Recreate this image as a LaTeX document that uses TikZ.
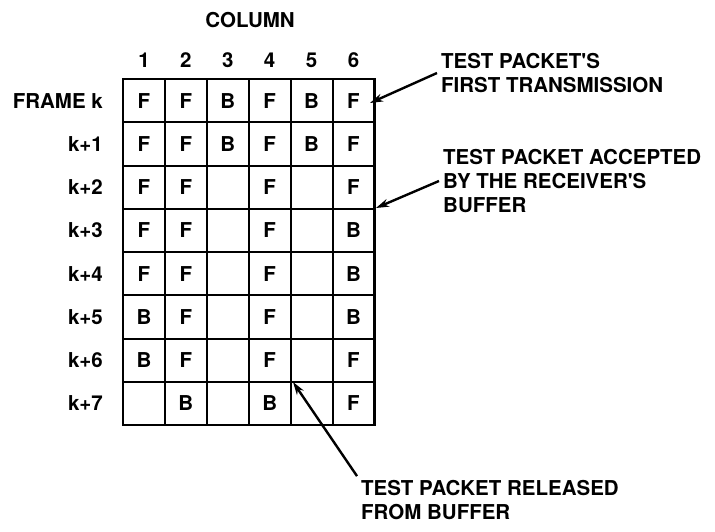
\documentclass[tikz,border=0pt]{standalone}
\usepackage{fontspec}
\setmainfont{TeX Gyre Heros}
\usetikzlibrary{arrows.meta}

\tikzset{
  lbl/.style={font=\bfseries\fontsize{20.5}{24}\selectfont, inner sep=4pt},
  note/.style={lbl, align=left, anchor=west},
  pointer/.style={line width=2.4pt, -{Stealth[length=13pt,width=8pt]}}
}

\begin{document}
\begin{tikzpicture}[x=1pt, y=-1pt]
\useasboundingbox (0,0) rectangle (715,531);
\def\cw{41.9}
\def\rh{43.25}

% grid lines
\foreach \i in {1,...,5}
  \draw[line width=2pt] (123+\i*\cw,79) -- (123+\i*\cw,79+8*\rh);
\foreach \j in {1,...,7}
  \draw[line width=2pt] (123,79+\j*\rh) -- (123+6*\cw,79+\j*\rh);
\draw[line width=2.6pt] (123,79) rectangle (123+6*\cw,79+8*\rh);

% headings
\node[lbl] (column) at (250,20) {COLUMN};
\foreach \i in {1,...,6}
  \node[lbl] (col\i) at (123+\i*\cw-0.5*\cw,60) {\i};
\foreach \t [count=\j from 0] in {FRAME k,k+1,k+2,k+3,k+4,k+5,k+6,k+7}
  \node[lbl, anchor=east] (row\j) at (107,79+\j*\rh+0.5*\rh) {\t};

% cells
\foreach \r [count=\j from 0] in {{F,F,B,F,B,F},{F,F,B,F,B,F},{F,F,,F,,F},{F,F,,F,,B},
    {F,F,,F,,B},{B,F,,F,,B},{B,F,,F,,F},{,B,,B,,F}}
  \foreach \c [count=\i from 0] in \r
    \node[lbl] (cell-\j-\i) at (123+\i*\cw+0.5*\cw,79+\j*\rh+0.5*\rh) {\c};

% notes
\node[note] (first) at (437,73) {TEST PACKET\textquotesingle S\\FIRST TRANSMISSION};
\node[note] (accepted) at (439,181) {TEST PACKET ACCEPTED\\BY THE RECEIVER\textquotesingle S\\BUFFER};
\node[note] (released) at (357,500) {TEST PACKET RELEASED\\FROM BUFFER};

\coordinate (tip1) at (370,103);
\coordinate (tip2) at (376,208);
\coordinate (tip3) at (293,382);

\draw[pointer] (first.west) -- (tip1);
\draw[pointer] (accepted.west) -- (tip2);
\draw[pointer] (released.north west) -- (tip3);
\end{tikzpicture}
\end{document}
